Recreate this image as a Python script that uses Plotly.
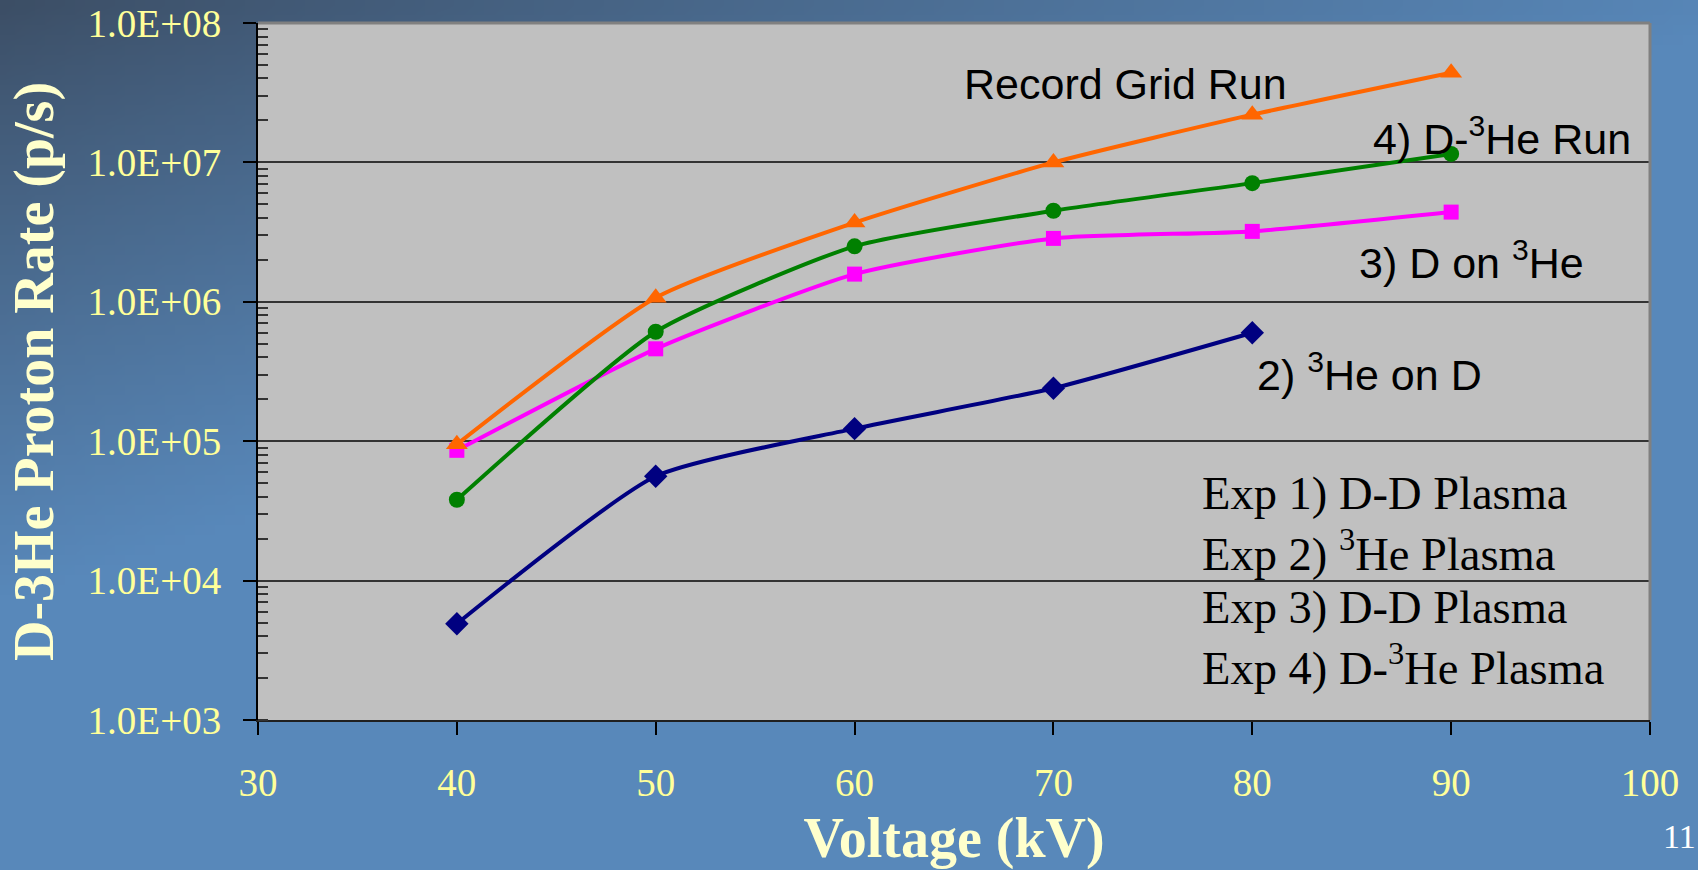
import base64
import struct
import zlib

import plotly.graph_objects as go

# ---- data -------------------------------------------------------------
voltage_kv = [40, 50, 60, 70, 80, 90]

record_grid_run = [9.5e4, 1.07e6, 3.7e6, 1.0e7, 2.2e7, 4.4e7]      # orange
d_3he_run = [3.8e4, 6.1e5, 2.5e6, 4.5e6, 7.1e6, 1.15e7]             # green
d_on_3he = [8.6e4, 4.6e5, 1.58e6, 2.85e6, 3.2e6, 4.4e6]             # magenta
he3_on_d_voltage = [40, 50, 60, 70, 80]
he3_on_d = [4.9e3, 5.6e4, 1.23e5, 2.4e5, 6.0e5]                      # navy

y_tickvals = [1e3, 1e4, 1e5, 1e6, 1e7, 1e8]
y_ticktext = ["1.0E+03", "1.0E+04", "1.0E+05", "1.0E+06", "1.0E+07", "1.0E+08"]
x_tickvals = [30, 40, 50, 60, 70, 80, 90, 100]

exp_lines = [
    "Exp 1) D-D Plasma",
    "Exp 2) <sup>3</sup>He Plasma",
    "Exp 3) D-D Plasma",
    "Exp 4) D-<sup>3</sup>He Plasma",
]

# ---- page geometry ----------------------------------------------------
W, H = 1698, 870
L, R, T, B = 258, 1650, 23, 720
PW, PH = R - L, B - T


def px(x):
    return (x - L) / PW


def py(y):
    return (B - y) / PH


# ---- slide background gradient (small png, stretched) -------------------
def gradient_png(w, h):
    dark = (60, 78, 101)
    light = (88, 136, 186)
    raw = bytearray()
    for j in range(h):
        raw.append(0)
        v = j / (h - 1)
        for i in range(w):
            u = i / (w - 1)
            t = min(1.0, 0.95 * u + 1.45 * v)
            t = t ** 0.9
            raw.extend(int(round(dark[k] + (light[k] - dark[k]) * t)) for k in range(3))

    def chunk(tag, data):
        body = tag + data
        return struct.pack(">I", len(data)) + body + struct.pack(">I", zlib.crc32(body) & 0xFFFFFFFF)

    png = (b"\x89PNG\r\n\x1a\n"
           + chunk(b"IHDR", struct.pack(">IIBBBBB", w, h, 8, 2, 0, 0, 0))
           + chunk(b"IDAT", zlib.compress(bytes(raw), 9))
           + chunk(b"IEND", b""))
    return "data:image/png;base64," + base64.b64encode(png).decode()


fig = go.Figure()

series = [
    ("2) 3He on D", he3_on_d_voltage, he3_on_d, "#000080", "diamond", 18),
    ("3) D on 3He", voltage_kv, d_on_3he, "#ff00ff", "square", 15),
    ("4) D-3He Run", voltage_kv, d_3he_run, "#008000", "circle", 16),
    ("Record Grid Run", voltage_kv, record_grid_run, "#ff6600", "triangle-up", 19),
]
for name, xs, ys, color, symbol, size in series:
    fig.add_trace(go.Scatter(
        x=xs, y=ys, name=name, mode="lines+markers",
        line=dict(color=color, width=4, shape="spline", smoothing=0.55),
        marker=dict(symbol=symbol, size=size, color=color, line=dict(width=0)),
        showlegend=False,
    ))

serif = "Liberation Serif, Times New Roman, serif"
sans = "Liberation Sans, Arial, sans-serif"

annotations = [
    dict(text="Record Grid Run", x=px(962), y=py(84)),
    dict(text="4) D-<sup>3</sup>He Run", x=px(1371), y=py(136)),
    dict(text="3) D on <sup>3</sup>He", x=px(1357), y=py(260)),
    dict(text="2) <sup>3</sup>He on D", x=px(1255), y=py(372)),
]
annotations = [dict(a, xref="paper", yref="paper", xanchor="left", yanchor="middle",
                    showarrow=False, font=dict(family=sans, size=43, color="black"))
               for a in annotations]

for i, line in enumerate(exp_lines):
    annotations.append(dict(
        text=line, x=px(1200), y=py(493 + 57 * i), xref="paper", yref="paper",
        xanchor="left", yanchor="middle", showarrow=False,
        font=dict(family=serif, size=46.5, color="black"),
    ))

# slide number
annotations.append(dict(
    text="11", x=px(1698), y=py(836), xref="paper", yref="paper",
    xanchor="right", yanchor="middle", showarrow=False,
    font=dict(family=serif, size=34, color="white"),
))

shapes = [
    # plot area fill
    dict(type="rect", xref="paper", yref="paper", x0=0, x1=1, y0=0, y1=1,
         fillcolor="#c0c0c0", line=dict(width=0), layer="below"),
    # grey frame on top and right
    dict(type="line", xref="paper", yref="paper", x0=0, x1=1, y0=1, y1=1,
         line=dict(color="#808080", width=3), layer="above"),
    dict(type="line", xref="paper", yref="paper", x0=1, x1=1, y0=0, y1=1,
         line=dict(color="#808080", width=3), layer="above"),
]

fig.update_layout(
    width=W, height=H,
    margin=dict(l=L, r=W - R, t=T, b=H - B, autoexpand=False),
    paper_bgcolor="#5586b8",
    plot_bgcolor="rgba(0,0,0,0)",
    images=[dict(source=gradient_png(170, 87), xref="paper", yref="paper",
                 x=-L / PW, y=1 + T / PH, sizex=W / PW, sizey=H / PH,
                 xanchor="left", yanchor="top", sizing="stretch", layer="below")],
    shapes=shapes,
    annotations=annotations,
    xaxis=dict(
        range=[30, 100], tickmode="array", tickvals=x_tickvals,
        showgrid=False, zeroline=False,
        showline=True, linecolor="#202020", linewidth=2,
        ticks="outside", ticklen=13, tickwidth=2, tickcolor="black",
        tickfont=dict(family=serif, size=39, color="#ffff99"),
        ticklabelstandoff=14,
        title=dict(text="<b>Voltage (kV)</b>", standoff=27,
                   font=dict(family=serif, size=56, color="#ffffcc")),
        automargin=False,
    ),
    yaxis=dict(
        type="log", range=[3, 8], tickmode="array",
        tickvals=y_tickvals, ticktext=y_ticktext,
        showgrid=True, gridcolor="#333333", gridwidth=1.5, zeroline=False,
        showline=True, linecolor="black", linewidth=2,
        ticks="outside", ticklen=13, tickwidth=2, tickcolor="black",
        minor=dict(ticks="inside", ticklen=10, tickwidth=2, tickcolor="#333333",
                   dtick="D1", showgrid=False),
        tickfont=dict(family=serif, size=39, color="#ffff99"),
        ticklabelstandoff=14,
        title=dict(text="<b>D-3He Proton Rate (p/s)</b>", standoff=16,
                   font=dict(family=serif, size=56, color="#ffffcc")),
        automargin=False,
    ),
)

fig.write_html("out.html")
